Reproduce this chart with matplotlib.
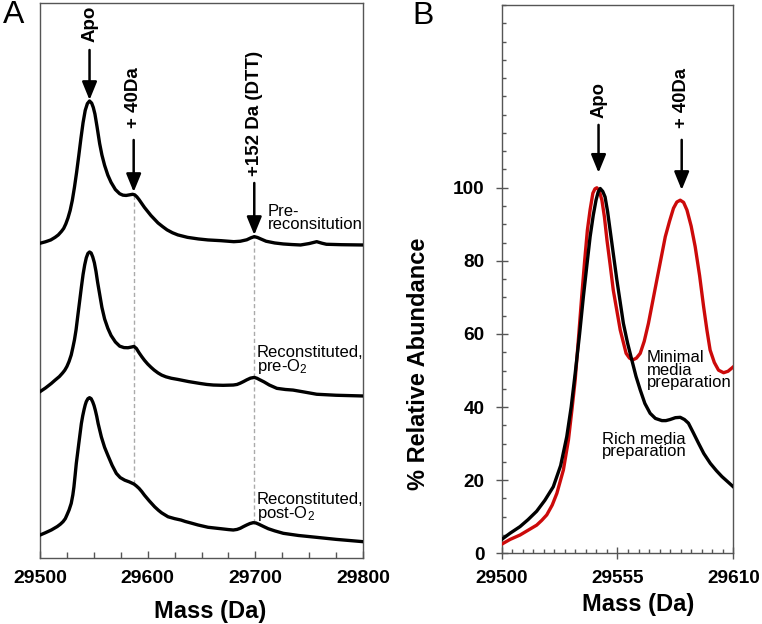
import matplotlib
matplotlib.use("Agg")
import matplotlib.pyplot as plt
import numpy as np
from matplotlib.ticker import MultipleLocator, FixedLocator

plt.rcParams['font.family'] = ['Liberation Sans', 'DejaVu Sans']
plt.rcParams['mathtext.default'] = 'regular'

# ---- panel A: deconvoluted spectra (relative intensity, %)
a_top_mass = [29500, 29505, 29510, 29514, 29517, 29520, 29522, 29524, 29526, 29528,
              29530, 29532, 29534, 29536, 29538, 29540, 29542, 29544, 29546, 29548,
              29549.5, 29551, 29553, 29555.4, 29557.5, 29560, 29563, 29566, 29570, 29574,
              29577, 29580, 29583, 29586, 29588, 29590, 29592, 29597, 29603, 29609.6,
              29614, 29618, 29623, 29628, 29637, 29647, 29656, 29668, 29680, 29686,
              29692, 29696, 29699, 29702, 29705, 29710, 29718, 29726, 29734, 29742,
              29750, 29757, 29762, 29766, 29780, 29800]
a_top_int = [1.2, 2.2, 3.5, 5.3, 7.0, 9.5, 11.5, 14.7, 18.8, 24,
             31, 40.1, 50.5, 62, 74, 85, 93.5, 98.2, 100, 98.5,
             95.5, 91, 82, 70.4, 62.5, 55.3, 48.5, 43.5, 38.5, 35.6,
             34.6, 34.4, 34.8, 35.2, 34.8, 33.4, 31.5, 26.1, 20.5, 15.3,
             12.7, 10.5, 8.5, 7.0, 5.3, 4.2, 3.5, 3.0, 2.3, 2.6,
             3.6, 5.0, 5.8, 5.2, 4.2, 2.6, 1.4, 0.7, 0.3, 0,
             1.0, 2.3, 1.2, 0.5, 0.2, 0]

a_mid_mass = [29500, 29505, 29510.5, 29514, 29518, 29521, 29523, 29525, 29527, 29529,
              29530.6, 29532, 29533.5, 29535.3, 29537, 29538.5, 29540, 29541.5, 29543, 29544.5,
              29546, 29547.5, 29549, 29550.5, 29552, 29553.5, 29555.4, 29557.5, 29560, 29563,
              29566, 29570, 29574, 29578, 29581.7, 29585, 29587.3, 29589.5, 29592, 29594.5,
              29597, 29600, 29603, 29606, 29609.6, 29613, 29617, 29622, 29628, 29638,
              29648.6, 29655, 29661, 29670, 29679.5, 29683, 29686, 29689, 29692, 29695.5,
              29699, 29701.5, 29704, 29708, 29713, 29720, 29728, 29735, 29745, 29757,
              29775, 29800]
a_mid_int = [3.0, 5.5, 8.7, 11, 13.5, 16, 17.9, 20.5, 24, 28.5,
             33.9, 39, 46, 56.9, 67, 76, 84.4, 91, 96, 99,
             100, 99.3, 96.5, 92.5, 86.5, 79, 70.7, 61.5, 53.5, 47,
             42.0, 37.5, 34.6, 33.6, 33.5, 34.0, 34.4, 33.0, 30, 27.3,
             24.8, 22.2, 20, 18, 16.0, 14.5, 13.3, 12.3, 11.5, 10,
             8.7, 8.0, 7.6, 7.4, 7.6, 8.0, 8.9, 10, 11.2, 12.4,
             12.9, 12.3, 11.3, 9.8, 7.6, 5.3, 4.5, 4.1, 2.8, 1.2,
             0.5, 0]

a_bot_mass = [29500, 29505, 29510.5, 29516, 29519, 29521.4, 29523.5, 29525, 29527, 29529,
              29530.5, 29531.5, 29532.6, 29533.7, 29535, 29536, 29537.2, 29538.4, 29539.7, 29541,
              29542, 29543, 29544.5, 29546, 29547.5, 29549, 29550.2, 29551.4, 29552.7, 29554,
              29557, 29560, 29563, 29567, 29570.9, 29574.5, 29578.7, 29583, 29587.3, 29589.5,
              29592, 29594.5, 29597, 29601.5, 29606.5, 29610, 29613, 29618.9, 29625, 29631,
              29635, 29640, 29646.7, 29656, 29668, 29675, 29679.5, 29683, 29686, 29689,
              29692, 29695, 29698, 29700.5, 29703, 29708, 29712, 29718, 29726, 29740,
              29757, 29775, 29800]
a_bot_int = [4.6, 6.2, 8.1, 10.5, 12.2, 13.9, 16, 18.5, 22, 26.6,
             32.5, 38, 46, 54.3, 62, 68, 75, 82.0, 87.5, 92,
             95, 97.3, 99.3, 100, 99.3, 97, 94.5, 91.2, 87, 82,
             72.7, 65.5, 60.0, 53, 47.4, 44.5, 42.7, 41.5, 40.0, 38.7,
             37, 34.8, 32.3, 28.3, 24.2, 21.8, 20, 17.3, 16, 15.0,
             14, 13, 11.6, 10.0, 9.0, 8.4, 8.1, 8.5, 9.3, 10.5,
             11.6, 12.6, 13.2, 13.0, 12.2, 10.4, 9.0, 7.5, 5.8, 4.3,
             3.0, 1.6, 0]

a_labels = ["Pre-\nreconsitution", "Reconstituted,\npre-O$_2$", "Reconstituted,\npost-O$_2$"]
a_marks = [29546, 29587, 29699]
a_mark_labels = ["Apo", "+ 40Da", "+152 Da (DTT)"]

# ---- panel B: % relative abundance
b_black_mass = [29500, 29504, 29508.7, 29512.5, 29516.6, 29520.5, 29524.5, 29528, 29530.9, 29533,
                29534.9, 29537, 29538.8, 29540.5, 29542, 29543.5, 29544.8, 29545.8, 29546.8, 29548,
                29549.1, 29550.3, 29551.5, 29553, 29554.7, 29557.8, 29559.8, 29561.8, 29563.8, 29565.8,
                29568, 29570.5, 29573, 29576.1, 29578, 29580, 29582.5, 29584.8, 29586.8, 29588.7,
                29591, 29593.5, 29596, 29599.1, 29602, 29604.6, 29607.5, 29610]
b_black = [3.8, 5.5, 7.3, 9.2, 11.5, 14.5, 18.2, 24, 31.9, 40,
           49.2, 60, 70.2, 79, 86.6, 92.5, 96.6, 98.8, 99.8, 99,
           97.5, 93.5, 88.4, 82, 74.8, 62.9, 57.5, 52.9, 48.4, 44.7,
           41, 38.3, 36.9, 36.3, 36.3, 36.6, 37.1, 37.2, 36.6, 35.6,
           33, 30.1, 27.3, 24.6, 22.6, 21.0, 19.5, 18.2]

b_red_mass = [29500, 29504, 29508.7, 29512.5, 29516.6, 29519, 29521.4, 29524, 29526.2, 29529.3,
              29531.7, 29533.3, 29534.9, 29536.5, 29538, 29539.4, 29540.7, 29542, 29543.3, 29544.3,
              29545.2, 29546.3, 29547.6, 29548.8, 29550, 29551.5, 29553, 29556.3, 29559.1, 29560.7,
              29562.3, 29564, 29565.8, 29567.7, 29569.7, 29573.7, 29577.7, 29579.7, 29581.6, 29583.2,
              29584.8, 29586.4, 29588, 29590, 29591.9, 29594, 29595.9, 29597.5, 29599, 29601,
              29603, 29605.4, 29607.5, 29610]
b_red = [2.5, 3.8, 5.0, 6.3, 7.7, 9.0, 10.5, 13.2, 16.4, 22.8,
         31.0, 39, 47.4, 59, 70.2, 80, 88.4, 94, 98.5, 99.7,
         100, 99.2, 96.6, 92, 85.7, 79, 72, 61.1, 54.7, 53.4,
         52.9, 53.4, 54.7, 58, 62.9, 74.8, 86.6, 90.8, 94.4, 96.1,
         96.6, 96, 93.9, 89.5, 83.9, 76, 67.5, 61, 55.6, 52.2,
         50.1, 49.4, 49.8, 51.0]
b_marks = [29546, 29585.5]
b_mark_labels = ["Apo", "+ 40Da"]

red = '#cc0a0a'
spine_c = '#555555'

fig = plt.figure(figsize=(7.62, 6.24), dpi=100)

# ================= A
axA = fig.add_axes([0.0525, 0.1063, 0.4239, 0.8889])
offsets = [312.7, 161.7, 16.0]
scale = 1.44
traces = [(a_top_mass, a_top_int), (a_mid_mass, a_mid_int), (a_bot_mass, a_bot_int)]
yvals = []
for (m, v), off in zip(traces, offsets):
    y = off + scale * np.array(v)
    yvals.append(y)
    axA.plot(m, y, color='black', lw=2.4, zorder=3, solid_joinstyle='round')

# dashed guide lines through +40 and DTT
for mk in a_marks[1:]:
    y_hi = np.interp(mk, traces[0][0], yvals[0])
    y_lo = np.interp(mk, traces[2][0], yvals[2])
    axA.plot([mk, mk], [y_lo, y_hi], ls=(0, (3, 2)), color='#aaaaaa', lw=1, zorder=1)

arr = dict(arrowstyle='-|>,head_length=1.1,head_width=0.45', color='black', lw=1.8,
           shrinkA=0, shrinkB=0)
a_text_y = [533.7, 459.7, 444]
a_arrow = [(507.7, 457.7), (417.7, 365.7), (374.7, 322.7)]
for mk, lab, ty, (t0, t1) in zip(a_marks, a_mark_labels, a_text_y, a_arrow):
    axA.text(mk, ty, lab, rotation=90, ha='center', va='center', fontsize=13.5, fontweight='bold')
    axA.annotate('', xy=(mk, t1), xytext=(mk, t0), arrowprops=arr)

a_lab_pos = [(29711.8, 353.7), (29701.5, 212.7), (29701.5, 66)]
for lab, (lx, ly) in zip(a_labels, a_lab_pos):
    axA.text(lx, ly, lab, ha='left', va='top', fontsize=12, linespacing=0.8)

axA.set_xlim(29500, 29800)
axA.set_ylim(0, 554.7)
axA.set_xticks([29500, 29600, 29700, 29800])
axA.xaxis.set_minor_locator(MultipleLocator(25))
axA.set_yticks([])
axA.tick_params(axis='x', which='major', direction='in', length=5, width=1, color=spine_c,
                labelsize=14, pad=9)
axA.tick_params(axis='x', which='minor', direction='in', length=4, width=1, color=spine_c)
for lbl in axA.get_xticklabels():
    lbl.set_fontweight('bold')
for s in axA.spines.values():
    s.set_color(spine_c)
    s.set_linewidth(1)
axA.set_xlabel('Mass (Da)', fontsize=17, fontweight='bold')
axA.xaxis.set_label_coords(0.526, -0.076)
axA.xaxis.label.set_va('top')

# ================= B
axB = fig.add_axes([0.6584, 0.1133, 0.3039, 0.8787])
axB.plot(b_red_mass, b_red, color=red, lw=2.4, zorder=3, solid_joinstyle='round')
axB.plot(b_black_mass, b_black, color='black', lw=2.4, zorder=4, solid_joinstyle='round')

b_text_y = [124.1, 124.5]
b_arrow = [(117.2, 104.1), (113.1, 99.4)]
for mk, lab, ty, (t0, t1) in zip(b_marks, b_mark_labels, b_text_y, b_arrow):
    axB.text(mk, ty, lab, rotation=90, ha='center', va='center', fontsize=13.3, fontweight='bold')
    axB.annotate('', xy=(mk, t1), xytext=(mk, t0), arrowprops=arr)

axB.text(29568.9, 55.6, "Minimal\nmedia\npreparation", ha='left', va='top', fontsize=12, linespacing=0.8)
axB.text(29547.6, 33.3, "Rich media\npreparation", ha='left', va='top', fontsize=12, linespacing=0.8)

axB.set_xlim(29500, 29610)
axB.set_ylim(0, 150)
axB.xaxis.set_major_locator(FixedLocator([29500, 29555, 29610]))
axB.xaxis.set_minor_locator(MultipleLocator(5))
axB.yaxis.set_major_locator(FixedLocator([0, 20, 40, 60, 80, 100]))
axB.yaxis.set_minor_locator(MultipleLocator(5))
axB.tick_params(which='major', direction='inout', length=8.5, width=1, color=spine_c,
                labelsize=13.7, pad=8)
axB.tick_params(which='minor', direction='in', length=3, width=1, color=spine_c)
for lbl in axB.get_xticklabels() + axB.get_yticklabels():
    lbl.set_fontweight('bold')
for s in axB.spines.values():
    s.set_color(spine_c)
    s.set_linewidth(1)
axB.set_xlabel('Mass (Da)', fontsize=17, fontweight='bold')
axB.xaxis.set_label_coords(0.589, -0.073)
axB.xaxis.label.set_va('top')
axB.set_ylabel('% Relative Abundance', fontsize=17, fontweight='bold')
axB.yaxis.set_label_coords(-0.31, 0.346)

fig.text(13.3 / 762, 1 - 15 / 624, 'A', fontsize=23, ha='center', va='center')
fig.text(423 / 762, 1 - 16 / 624, 'B', fontsize=23, ha='center', va='center')

fig.savefig('out.png', dpi=100)
